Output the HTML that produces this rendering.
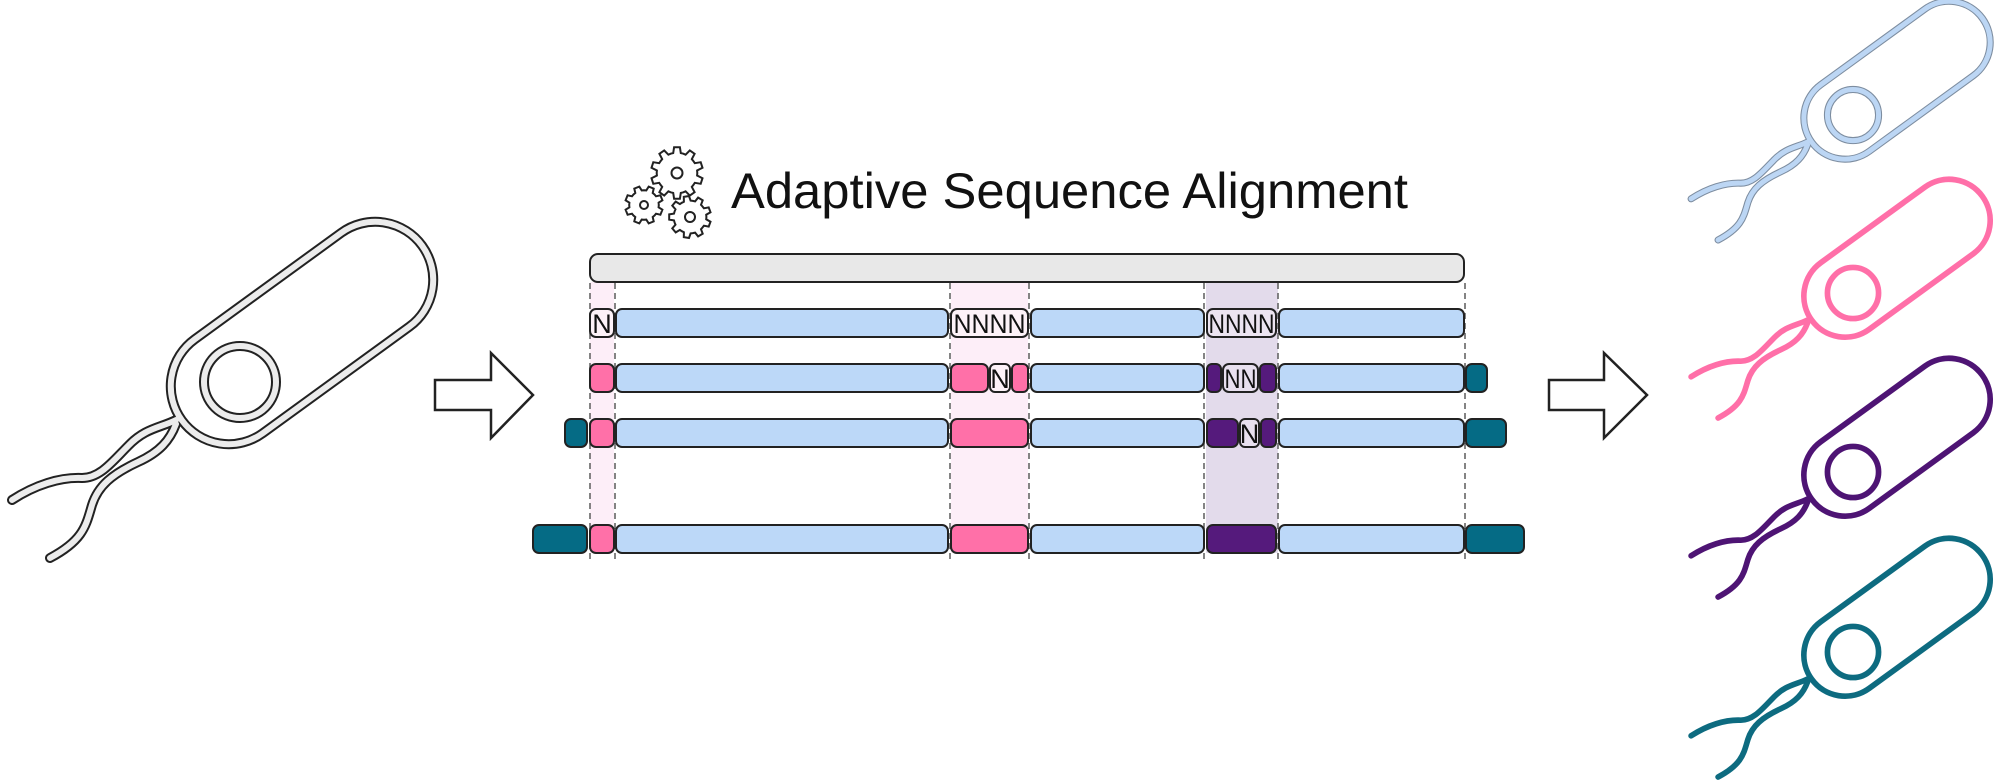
<!DOCTYPE html>
<html><head><meta charset="utf-8"><style>
html,body{margin:0;padding:0;background:#fff;}
svg{display:block}
</style></head><body>
<svg width="2000" height="782" viewBox="0 0 2000 782" xmlns="http://www.w3.org/2000/svg">
<defs>
<g id="bact">
  <rect x="-148.5" y="-58" width="297" height="116" rx="58" transform="translate(302,333) rotate(-36)" fill="none"/>
  <circle cx="240" cy="382" r="36" fill="none"/>
  <path d="M176,420 C160,428 145,428 128,446 C112,462 100,478 82,478 C60,477 35,485 12,500" fill="none"/>
  <path d="M176,424 C170,440 160,452 138,462 C112,474 98,486 92,505 C86,525 84,540 50,558" fill="none"/>
</g>
</defs>

<use href="#bact" stroke="#222" stroke-width="10" stroke-linecap="round"/>
<use href="#bact" stroke="#ececec" stroke-width="6" stroke-linecap="round"/>

<g transform="translate(1682.6,-156.2) scale(0.71)">
  <use href="#bact" stroke="#7d8da0" stroke-width="10" stroke-linecap="round"/>
  <use href="#bact" stroke="#bcd6f4" stroke-width="7" stroke-linecap="round"/>
</g>
<g transform="translate(1682.6,21.8) scale(0.71)">
  <use href="#bact" stroke="#ff6fa8" stroke-width="8" stroke-linecap="round"/>
</g>
<g transform="translate(1682.6,200.8) scale(0.71)">
  <use href="#bact" stroke="#4e1474" stroke-width="8" stroke-linecap="round"/>
</g>
<g transform="translate(1682.6,380.8) scale(0.71)">
  <use href="#bact" stroke="#0d6b80" stroke-width="8" stroke-linecap="round"/>
</g>

<path d="M435,380 L491,380 L491,353 L533,395 L491,438 L491,410 L435,410 Z" fill="#fff" stroke="#222" stroke-width="2.5"/>
<path d="M1549,380 L1604,380 L1604,353 L1647,395 L1604,438 L1604,410 L1549,410 Z" fill="#fff" stroke="#222" stroke-width="2.5"/>

<g id="gears" fill="#fff" stroke="#222" stroke-width="2"></g>
<text x="731" y="208" font-family="Liberation Sans, sans-serif" font-size="50" fill="#111" textLength="677" lengthAdjust="spacingAndGlyphs">Adaptive Sequence Alignment</text>

<rect x="590" y="282" width="24" height="271" fill="#fdeef8"/>
<rect x="951" y="282" width="77" height="271" fill="#fdeef8"/>
<rect x="1206" y="282" width="72" height="271" fill="#e3dbeb"/>

<rect x="590" y="254" width="874" height="28" rx="8" fill="#e8e8e8" stroke="#222" stroke-width="2"/>

<g stroke="#666" stroke-width="1.6" stroke-dasharray="6,4">
  <line x1="590" y1="283" x2="590" y2="560"/>
  <line x1="615" y1="283" x2="615" y2="560"/>
  <line x1="950" y1="283" x2="950" y2="560"/>
  <line x1="1029" y1="283" x2="1029" y2="560"/>
  <line x1="1204" y1="283" x2="1204" y2="560"/>
  <line x1="1278" y1="283" x2="1278" y2="560"/>
  <line x1="1465" y1="283" x2="1465" y2="560"/>
</g>

<g stroke="#222" stroke-width="2">
<rect x="590" y="309" width="24" height="28" rx="6" fill="#fdf2f8"/>
<rect x="616" y="309" width="332" height="28" rx="6" fill="#bcd8f8"/>
<rect x="951" y="309" width="77" height="28" rx="6" fill="#fdf2f8"/>
<rect x="1031" y="309" width="173" height="28" rx="6" fill="#bcd8f8"/>
<rect x="1207" y="309" width="69" height="28" rx="6" fill="#ece4f1"/>
<rect x="1279" y="309" width="185" height="28" rx="6" fill="#bcd8f8"/>

<rect x="590" y="364" width="24" height="28" rx="6" fill="#ff70a8"/>
<rect x="616" y="364" width="332" height="28" rx="6" fill="#bcd8f8"/>
<rect x="951" y="364" width="37" height="28" rx="6" fill="#ff70a8"/>
<rect x="990" y="364" width="20" height="28" rx="5" fill="#fdf2f8"/>
<rect x="1012" y="364" width="16" height="28" rx="5" fill="#ff70a8"/>
<rect x="1031" y="364" width="173" height="28" rx="6" fill="#bcd8f8"/>
<rect x="1207" y="364" width="14" height="28" rx="5" fill="#551a7c"/>
<rect x="1223" y="364" width="35" height="28" rx="6" fill="#e8e0ef"/>
<rect x="1260" y="364" width="16" height="28" rx="5" fill="#551a7c"/>
<rect x="1279" y="364" width="185" height="28" rx="6" fill="#bcd8f8"/>
<rect x="1466" y="364" width="21" height="28" rx="6" fill="#056b85"/>

<rect x="565" y="419" width="22" height="28" rx="6" fill="#056b85"/>
<rect x="590" y="419" width="24" height="28" rx="6" fill="#ff70a8"/>
<rect x="616" y="419" width="332" height="28" rx="6" fill="#bcd8f8"/>
<rect x="951" y="419" width="77" height="28" rx="6" fill="#ff70a8"/>
<rect x="1031" y="419" width="173" height="28" rx="6" fill="#bcd8f8"/>
<rect x="1207" y="419" width="31" height="28" rx="6" fill="#551a7c"/>
<rect x="1240" y="419" width="19" height="28" rx="5" fill="#e8e0ef"/>
<rect x="1261" y="419" width="15" height="28" rx="5" fill="#551a7c"/>
<rect x="1279" y="419" width="185" height="28" rx="6" fill="#bcd8f8"/>
<rect x="1466" y="419" width="40" height="28" rx="6" fill="#056b85"/>

<rect x="533" y="525" width="54" height="28" rx="6" fill="#056b85"/>
<rect x="590" y="525" width="24" height="28" rx="6" fill="#ff70a8"/>
<rect x="616" y="525" width="332" height="28" rx="6" fill="#bcd8f8"/>
<rect x="951" y="525" width="77" height="28" rx="6" fill="#ff70a8"/>
<rect x="1031" y="525" width="173" height="28" rx="6" fill="#bcd8f8"/>
<rect x="1207" y="525" width="69" height="28" rx="6" fill="#551a7c"/>
<rect x="1279" y="525" width="185" height="28" rx="6" fill="#bcd8f8"/>
<rect x="1466" y="525" width="58" height="28" rx="6" fill="#056b85"/>
</g>

<g font-family="Liberation Sans, sans-serif" font-size="27" fill="#111" text-anchor="middle">
<text x="602" y="333">N</text>
<text x="989.5" y="333" textLength="72" lengthAdjust="spacingAndGlyphs">NNNN</text>
<text x="1241.5" y="333" textLength="66" lengthAdjust="spacingAndGlyphs">NNNN</text>
<text x="1000" y="388">N</text>
<text x="1240.5" y="388" textLength="32" lengthAdjust="spacingAndGlyphs">NN</text>
<text x="1249.5" y="443">N</text>
</g>
</svg>
<script>
(function(){
  var g=document.getElementById('gears');
  function gear(cx,cy,R,n,hole){
    var r1=R, r0=R*0.78, d='';
    var step=Math.PI*2/n;
    for(var i=0;i<n;i++){
      var a=i*step;
      var pts=[[r0,a],[r0,a+step*0.2],[r1,a+step*0.32],[r1,a+step*0.68],[r0,a+step*0.8]];
      pts.forEach(function(p,j){
        var x=cx+p[0]*Math.cos(p[1]), y=cy+p[0]*Math.sin(p[1]);
        d+=(i==0&&j==0?'M':'L')+x.toFixed(1)+','+y.toFixed(1);
      });
    }
    d+='Z';
    var p=document.createElementNS('http://www.w3.org/2000/svg','path');
    p.setAttribute('d',d);g.appendChild(p);
    var c=document.createElementNS('http://www.w3.org/2000/svg','circle');
    c.setAttribute('cx',cx);c.setAttribute('cy',cy);c.setAttribute('r',hole);g.appendChild(c);
  }
  gear(677,173,26,10,5.5);
  gear(644,205,19,8,4);
  gear(690,217,21,9,5);
})();
</script>
</body></html>
